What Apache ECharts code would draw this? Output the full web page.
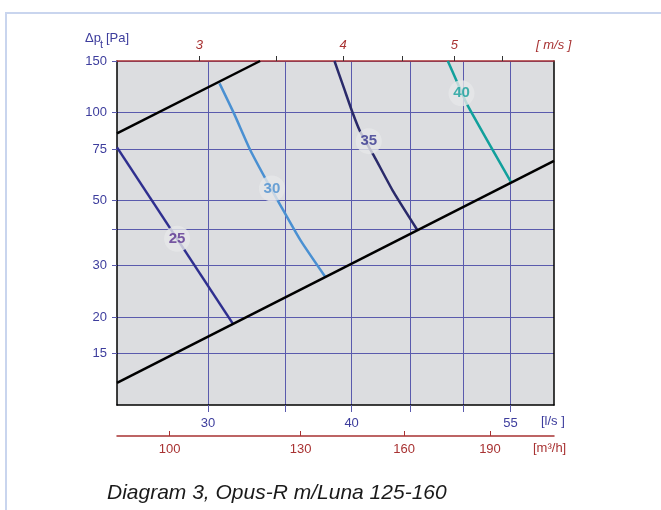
<!DOCTYPE html>
<html lang="en">
<head>
<meta charset="UTF-8">
<title>Diagram 3, Opus-R m/Luna 125-160</title>
<script src="https://cdn.jsdelivr.net/npm/echarts@6/dist/echarts.min.js"></script>
<style>
    html, body { margin: 0; padding: 0; background: #fff; }
    #chart { width: 661px; height: 510px; }
</style>
</head>
<body>
<div id="chart"></div>
<script>
// axes
const flowRange      = [25, 60];      // l/s
const pressureRange  = [10, 150];     // Pa
const flowTicks      = [30, 35, 40, 45, 50, 55];
const flowLabels     = [30, 40, 55];
const pressureTicks  = [15, 20, 30, 40, 50, 75, 100, 150];
const pressureLabels = [15, 20, 30, 50, 75, 100, 150];
const m3hTicks       = [100, 130, 160, 190];
const velocityTicks  = [3, 3.5, 4, 4.5, 5, 5.5];
const velocityLabels = [3, 4, 5];
const ductArea       = 9.83;  // l/s per m/s
const m3hPerLs       = 3.6;

// system lines [l/s, Pa]
const systemUpper = [[25, 84.8], [33.3, 150]];
const systemLower = [[25, 11.9], [60, 68.3]];

// sound level curves [l/s, Pa]
const curve25 = [[25, 76], [31.55, 18.9]];
const curve30 = [[30.7, 125.8], [31.6, 99.3], [32.65, 74.4], [33.65, 59.5], [34.55, 49.5], [36.1, 36.6], [37.95, 27.4]];
const curve35 = [[38.65, 150], [39.4, 120.9], [40.05, 100.6], [40.7, 85.9], [41.8, 71.5], [43.5, 53.5], [45.6, 39.8]];
const curve40 = [[48.5, 150], [49.4, 127.4], [50.45, 106], [55.1, 57.5]];
const curveNames  = ['25', '30', '35', '40'];
const labelSpots  = [[28.2, 37], [34.1, 55], [41.4, 79.8], [49.85, 116.3]];

const curveColors = ['#2f2f8f', '#4a90d2', '#2a2a6a', '#12a09c'];
const labelColors = ['#5a3290', '#4a8fd0', '#35358f', '#16a09c'];

const blue = '#3d3d9d';
const red  = '#a83232';
const gridBlue = '#5a5aad';
const font = 'Liberation Sans';

let chart = echarts.init(document.getElementById('chart'));

let curveSeries = [curve25, curve30, curve35, curve40].map(function (d, i) {
    return {
        type: 'line', name: curveNames[i], data: d,
        xAxisIndex: 0, yAxisIndex: 0,
        showSymbol: false, smooth: 0.2, z: 3,
        lineStyle: {color: curveColors[i], width: 2.5}
    };
});

let option = {
    animation: false,
    textStyle: {fontFamily: font},
    grid: {
        left: 117, top: 61, width: 437, height: 344,
        show: true, backgroundColor: '#dcdde0', borderWidth: 0
    },
    xAxis: [
        {
            type: 'log', min: flowRange[0], max: flowRange[1],
            axisLine: {lineStyle: {color: '#000', width: 1.5}},
            axisTick: {customValues: flowTicks, length: 7, lineStyle: {color: gridBlue}},
            axisLabel: {customValues: flowLabels, color: blue, fontSize: 13, margin: 12},
            splitLine: {show: true, lineStyle: {color: gridBlue, width: 1}}
        },
        {
            type: 'log', position: 'top',
            min: flowRange[0] / ductArea, max: flowRange[1] / ductArea,
            axisLine: {lineStyle: {color: red, width: 1.5}},
            axisTick: {customValues: velocityTicks, length: 5, lineStyle: {color: '#333'}},
            axisLabel: {customValues: velocityLabels, color: red, fontSize: 13, fontStyle: 'italic', margin: 9},
            splitLine: {show: false}
        },
        {
            type: 'log', position: 'bottom', offset: 31,
            min: flowRange[0] * m3hPerLs, max: flowRange[1] * m3hPerLs,
            axisLine: {lineStyle: {color: red, width: 1.5}},
            axisTick: {customValues: m3hTicks, inside: true, length: 5, lineStyle: {color: red}},
            axisLabel: {customValues: m3hTicks, color: red, fontSize: 13, margin: 7},
            splitLine: {show: false}
        }
    ],
    yAxis: [
        {
            type: 'log', min: pressureRange[0], max: pressureRange[1],
            axisLine: {lineStyle: {color: '#000', width: 1.5}},
            axisTick: {customValues: pressureTicks, length: 5, lineStyle: {color: gridBlue}},
            axisLabel: {customValues: pressureLabels, color: blue, fontSize: 13, margin: 10},
            splitLine: {show: true, lineStyle: {color: gridBlue, width: 1}}
        },
        {
            type: 'log', position: 'right', min: pressureRange[0], max: pressureRange[1],
            axisLine: {show: true, lineStyle: {color: '#000', width: 1.5}},
            axisTick: {show: false}, axisLabel: {show: false}, splitLine: {show: false}
        }
    ],
    series: [
        {
            type: 'line', data: systemUpper, showSymbol: false, z: 4,
            lineStyle: {color: '#000', width: 2.5}
        },
        {
            type: 'line', data: systemLower, showSymbol: false, z: 4,
            lineStyle: {color: '#000', width: 2.5}
        }
    ].concat(curveSeries).concat([
        {
            type: 'scatter', symbolSize: 26, z: 5,
            itemStyle: {color: '#e6e7e9'},
            data: labelSpots.map(function (p, i) {
                return {
                    name: curveNames[i], value: p,
                    label: {color: labelColors[i]}
                };
            }),
            label: {
                show: true, position: 'inside', fontSize: 15, fontWeight: 'bold',
                formatter: function (p) { return p.name; }
            }
        }
    ]),
    graphic: [
        {
            type: 'rect', shape: {x: 6, y: 13, width: 700, height: 600},
            style: {fill: 'none', stroke: '#c9d5ee', lineWidth: 2}, silent: true
        },
        {type: 'text', left: 85, top: 32, style: {text: 'Δp', fill: blue, fontSize: 13, fontFamily: font}},
        {type: 'text', left: 100, top: 39, style: {text: 't', fill: blue, fontSize: 11, fontFamily: font}},
        {type: 'text', left: 106, top: 32, style: {text: '[Pa]', fill: blue, fontSize: 13, fontFamily: font}},
        {type: 'text', left: 536, top: 39, style: {text: '[ m/s ]', fill: red, fontSize: 13, fontStyle: 'italic', fontFamily: font}},
        {type: 'text', left: 541, top: 415, style: {text: '[l/s ]', fill: blue, fontSize: 13, fontFamily: font}},
        {type: 'text', left: 533, top: 442, style: {text: '[m³/h]', fill: red, fontSize: 13, fontFamily: font}},
        {
            type: 'text', left: 107, top: 483,
            style: {text: 'Diagram 3, Opus-R m/Luna 125-160', fill: '#1a1a1a', fontSize: 21, fontStyle: 'italic', fontFamily: font}
        }
    ]
};
chart.setOption(option);
</script>
</body>
</html>
